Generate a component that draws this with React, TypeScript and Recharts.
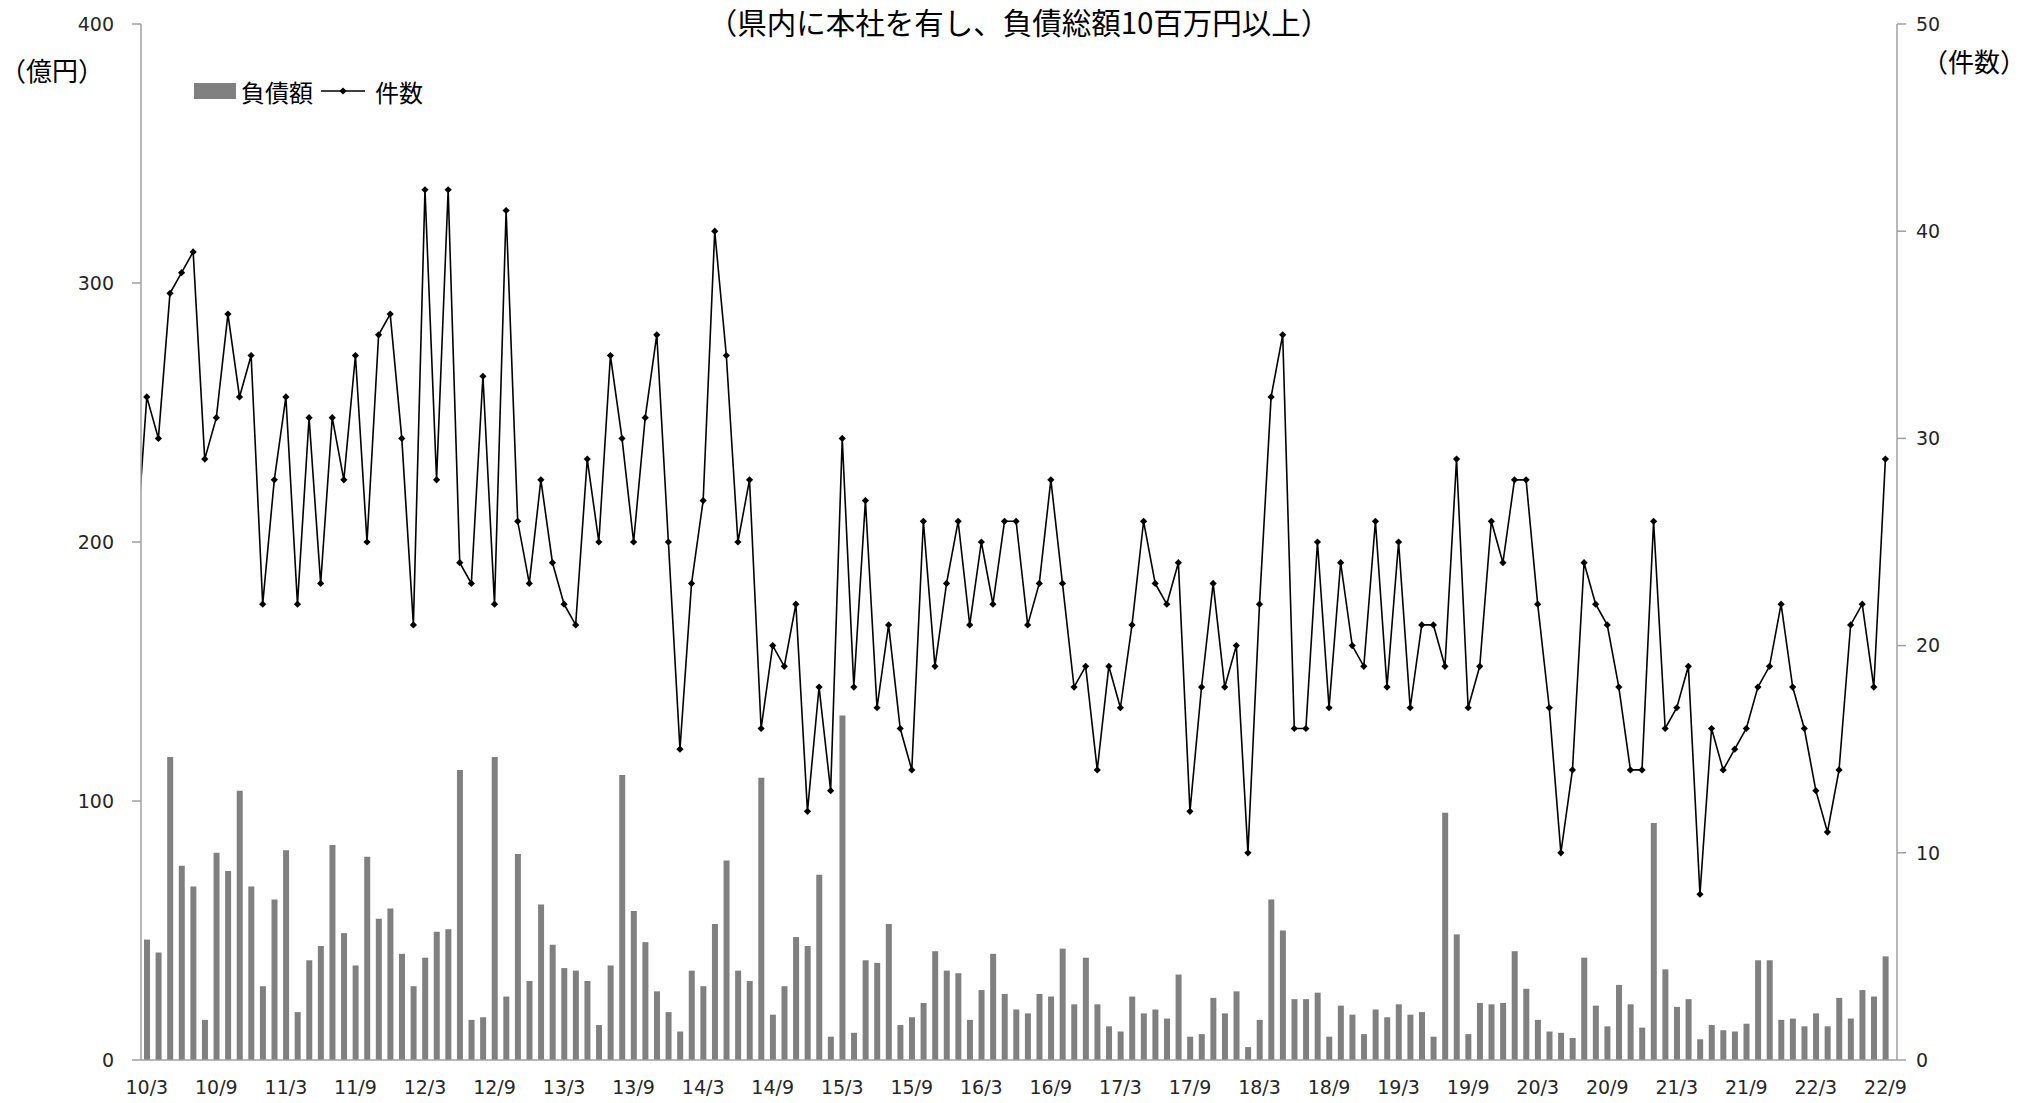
import React from 'react';
import { ComposedChart, Bar, Line, XAxis, YAxis } from 'recharts';

const W = 2038;
const H = 1103;

// tick labels of the category axis (every 6 months)
const xTickLabels = [
  '10/3', '10/9', '11/3', '11/9', '12/3', '12/9', '13/3', '13/9', '14/3', '14/9',
  '15/3', '15/9', '16/3', '16/9', '17/3', '17/9', '18/3', '18/9', '19/3', '19/9',
  '20/3', '20/9', '21/3', '21/9', '22/3', '22/9',
];
const leftTicks = [0, 100, 200, 300, 400];
const rightTicks = [0, 10, 20, 30, 40, 50];

// 負債額 (億円), monthly from 2010/3 to 2022/9
const debtOku = [
  46.5, 41.5, 117, 75, 67, 15.5, 80, 73, 104, 67,
  28.5, 62, 81, 18.5, 38.5, 44, 83, 49, 36.5, 78.5,
  54.5, 58.5, 41, 28.5, 39.5, 49.5, 50.5, 112, 15.5, 16.5,
  117, 24.5, 79.5, 30.5, 60, 44.5, 35.5, 34.5, 30.5, 13.5,
  36.5, 110, 57.5, 45.5, 26.5, 18.5, 11, 34.5, 28.5, 52.5,
  77, 34.5, 30.5, 109, 17.5, 28.5, 47.5, 44, 71.5, 9,
  133, 10.5, 38.5, 37.5, 52.5, 13.5, 16.5, 22, 42, 34.5,
  33.5, 15.5, 27, 41, 25.5, 19.5, 18, 25.5, 24.5, 43,
  21.5, 39.5, 21.5, 13, 11, 24.5, 18, 19.5, 16, 33,
  9, 10, 24, 18, 26.5, 5, 15.5, 62, 50, 23.5,
  23.5, 26, 9, 21, 17.5, 10, 19.5, 16.5, 21.5, 17.5,
  18.5, 9, 95.5, 48.5, 10, 22, 21.5, 22, 42, 27.5,
  15.5, 11, 10.5, 8.5, 39.5, 21, 13, 29, 21.5, 12.5,
  91.5, 35, 20.5, 23.5, 8, 13.5, 11.5, 11, 14, 38.5,
  38.5, 15.5, 16, 13, 18, 13, 24, 16, 27, 24.5,
  40,
];

// 件数, monthly from 2010/3 to 2022/9
const counts = [
  32, 30, 37, 38, 39, 29, 31, 36, 32, 34,
  22, 28, 32, 22, 31, 23, 31, 28, 34, 25,
  35, 36, 30, 21, 42, 28, 42, 24, 23, 33,
  22, 41, 26, 23, 28, 24, 22, 21, 29, 25,
  34, 30, 25, 31, 35, 25, 15, 23, 27, 40,
  34, 25, 28, 16, 20, 19, 22, 12, 18, 13,
  30, 18, 27, 17, 21, 16, 14, 26, 19, 23,
  26, 21, 25, 22, 26, 26, 21, 23, 28, 23,
  18, 19, 14, 19, 17, 21, 26, 23, 22, 24,
  12, 18, 23, 18, 20, 10, 22, 32, 35, 16,
  16, 25, 17, 24, 20, 19, 26, 18, 25, 17,
  21, 21, 19, 29, 17, 19, 26, 24, 28, 28,
  22, 17, 10, 14, 24, 22, 21, 18, 14, 14,
  26, 16, 17, 19, 8, 16, 14, 15, 16, 18,
  19, 22, 18, 16, 13, 11, 14, 21, 22, 18,
  29,
];
// the month before the first shown month (10/2), only its line segment enters the plot
const prevMonthCount = 24;

const monthLabel = (i: number) => {
  const m0 = 2 + i; // 0-based month index from Jan 2010
  const y = 10 + Math.floor(m0 / 12);
  const m = (((m0 % 12) + 12) % 12) + 1;
  return `${y}/${m}`;
};

const data = [
  { i: -1, month: monthLabel(-1), debt: null as number | null, count: prevMonthCount },
  ...counts.map((c, i) => ({ i, month: monthLabel(i), debt: debtOku[i], count: c })),
];

const xTicks = xTickLabels.map((_, k) => k * 6);

const AXIS = '#a0a0a0';
const TXT = '#262626';
const NUM_FONT = 'DejaVu Sans, Verdana, sans-serif';
const JP_FONT = '"Noto Sans CJK JP", "Noto Sans", sans-serif';

const Diamond = (props: any) => {
  const { cx, cy, index } = props;
  if (cx == null || cy == null) return <g key={`d${index}`} />;
  const r = 3.6;
  return (
    <polygon
      key={`d${index}`}
      points={`${cx},${cy - r} ${cx + r},${cy} ${cx},${cy + r} ${cx - r},${cy}`}
      fill="#000"
      stroke="none"
    />
  );
};

export default function App() {
  return (
    <div
      style={{
        position: 'absolute',
        left: 0,
        top: 0,
        width: W,
        height: H,
        background: '#fff',
        overflow: 'hidden',
      }}
    >
      <ComposedChart
        width={W}
        height={H}
        data={data}
        margin={{ top: 24, right: 0, bottom: 0, left: 0 }}
      >
        <XAxis
          dataKey="i"
          type="number"
          domain={[-0.5, 151]}
          allowDataOverflow
          ticks={xTicks}
          interval={0}
          tickFormatter={(v: number) => xTickLabels[Math.round(v / 6)] ?? ''}
          tickLine={false}
          tickSize={0}
          tickMargin={21}
          height={43}
          axisLine={{ stroke: AXIS, strokeWidth: 1.5 }}
          tick={{ fontSize: 19, fill: TXT, fontFamily: NUM_FONT }}
        />
        <YAxis
          yAxisId="l"
          orientation="left"
          domain={[0, 400]}
          ticks={leftTicks}
          interval={0}
          width={141}
          tickSize={9}
          tickMargin={18}
          axisLine={{ stroke: AXIS, strokeWidth: 1.5 }}
          tickLine={{ stroke: AXIS, strokeWidth: 1.5 }}
          tick={{ fontSize: 19, fill: TXT, fontFamily: NUM_FONT }}
        />
        <YAxis
          yAxisId="r"
          orientation="right"
          domain={[0, 50]}
          ticks={rightTicks}
          interval={0}
          width={141}
          tickSize={9}
          tickMargin={10}
          axisLine={{ stroke: AXIS, strokeWidth: 1.5 }}
          tickLine={{ stroke: AXIS, strokeWidth: 1.5 }}
          tick={{ fontSize: 19, fill: TXT, fontFamily: NUM_FONT }}
        />
        <Bar yAxisId="l" dataKey="debt" fill="#808080" barSize={6} isAnimationActive={false} />
        <Line
          yAxisId="r"
          dataKey="count"
          stroke="#000"
          strokeWidth={1.6}
          dot={(p: any) => <Diamond key={`dot-${p.index}`} {...p} />}
          activeDot={false}
          isAnimationActive={false}
        />
      </ComposedChart>

      {/* title */}
      <div
        style={{
          position: 'absolute',
          left: 0,
          width: W,
          top: 4,
          textAlign: 'center',
          fontFamily: JP_FONT,
          fontSize: 29.5,
          lineHeight: '34px',
          color: '#000',
        }}
      >
        （県内に本社を有し、負債総額10百万円以上）
      </div>

      {/* axis unit labels */}
      <div
        style={{
          position: 'absolute',
          left: 0,
          top: 53,
          fontFamily: JP_FONT,
          fontSize: 26,
          lineHeight: '34px',
          color: '#000',
          whiteSpace: 'nowrap',
        }}
      >
        （億円）
      </div>
      <div
        style={{
          position: 'absolute',
          left: 1922,
          top: 44,
          fontFamily: JP_FONT,
          fontSize: 26,
          lineHeight: '34px',
          color: '#000',
          whiteSpace: 'nowrap',
        }}
      >
        （件数）
      </div>

      {/* legend */}
      <div
        style={{
          position: 'absolute',
          left: 194,
          top: 76,
          height: 30,
          display: 'flex',
          alignItems: 'center',
          fontFamily: JP_FONT,
          fontSize: 24,
          color: '#000',
        }}
      >
        <span style={{ display: 'inline-block', width: 42, height: 16, background: '#808080' }} />
        <span style={{ marginLeft: 5 }}>負債額</span>
        <svg width={50} height={16} style={{ marginLeft: 6 }}>
          <line x1={2} y1={8} x2={46} y2={8} stroke="#000" strokeWidth={1.6} />
          <polygon points="24,4.4 27.6,8 24,11.6 20.4,8" fill="#000" />
        </svg>
        <span style={{ marginLeft: 6 }}>件数</span>
      </div>
    </div>
  );
}
